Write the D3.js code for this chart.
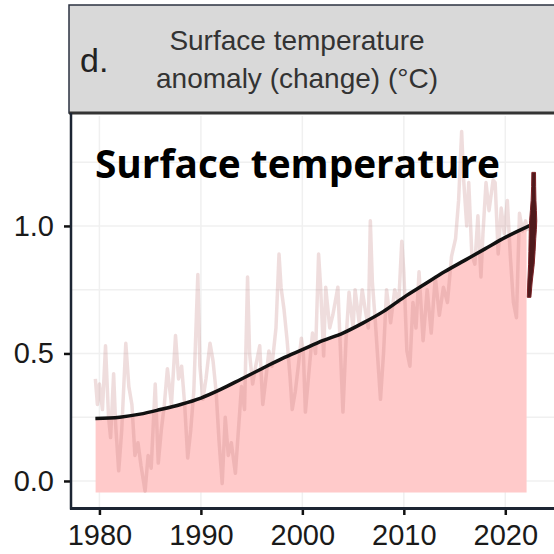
<!DOCTYPE html>
<html>
  <head>
    <meta charset="utf-8">
    <script src="https://d3js.org/d3.v7.min.js"></script>
    <style>
      body { margin: 0; background: #fff; }
      svg { display: block; }
    </style>
  </head>
  <body>
    <div id="chart"></div>
    <script>

      // tick labels
      let xTicks = [1980, 1990, 2000, 2010, 2020];
      let yTicks = [0.0, 0.5, 1.0];
      let yGrid = [0, 0.25, 0.5, 0.75, 1.0, 1.25];

      // monthly-ish anomaly (year, degC)
      let years = [1979.6, 1979.8, 1980.0, 1980.3, 1980.6, 1980.9, 1981.1, 1981.4, 1981.6, 1981.9,
        1982.2, 1982.6, 1982.9, 1983.2, 1983.5, 1983.8, 1984.1, 1984.5, 1984.8, 1985.1,
        1985.5, 1985.8, 1986.1, 1986.4, 1986.7, 1987.1, 1987.5, 1987.8, 1988.1, 1988.4,
        1988.7, 1989.0, 1989.3, 1989.7, 1989.9, 1990.2, 1990.5, 1990.9, 1991.2, 1991.5,
        1991.8, 1992.1, 1992.4, 1992.7, 1993.0, 1993.4, 1993.7, 1994.0, 1994.3, 1994.6,
        1994.8, 1995.1, 1995.4, 1995.8, 1996.1, 1996.4, 1996.7, 1997.0, 1997.4, 1997.7,
        1997.9, 1998.2, 1998.5, 1998.8, 1999.0, 1999.3, 1999.6, 1999.9, 2000.1, 2000.3,
        2000.7, 2001.0, 2001.3, 2001.6, 2001.8, 2002.1, 2002.3, 2002.7, 2003.0, 2003.5,
        2004.0, 2004.3, 2004.6, 2005.0, 2005.2, 2005.6, 2005.9, 2006.2, 2006.5, 2006.7,
        2006.9, 2007.2, 2007.7, 2008.0, 2008.3, 2008.7, 2009.1, 2009.5, 2009.8, 2010.0,
        2010.3, 2010.6, 2010.9, 2011.2, 2011.5, 2011.9, 2012.3, 2012.7, 2013.1, 2013.5,
        2013.9, 2014.3, 2014.7, 2015.1, 2015.4, 2015.7, 2015.9, 2016.2, 2016.4, 2016.7,
        2017.0, 2017.3, 2017.6, 2017.8, 2018.1, 2018.4, 2018.8, 2019.0, 2019.3, 2019.6,
        2019.9, 2020.2, 2020.5, 2020.8, 2021.1, 2021.4, 2021.7, 2022.0, 2022.2];
      let anomaly = [0.40, 0.30, 0.38, 0.28, 0.53, 0.25, 0.17, 0.42, 0.22, 0.04,
        0.20, 0.54, 0.37, 0.30, 0.10, 0.15, 0.06, -0.04, 0.10, 0.05,
        0.38, 0.07, 0.20, 0.30, 0.44, 0.30, 0.57, 0.40, 0.45, 0.30,
        0.09, 0.20, 0.35, 0.81, 0.45, 0.32, 0.40, 0.54, 0.47, 0.35,
        0.15, -0.01, 0.25, 0.10, 0.15, 0.03, 0.20, 0.37, 0.28, 0.80,
        0.50, 0.38, 0.45, 0.53, 0.30, 0.40, 0.51, 0.45, 0.60, 0.89,
        0.76, 0.67, 0.55, 0.40, 0.28, 0.35, 0.45, 0.56, 0.50, 0.27,
        0.45, 0.58, 0.50, 0.89, 0.76, 0.49, 0.76, 0.60, 0.65, 0.76,
        0.27, 0.55, 0.74, 0.60, 0.75, 0.62, 0.75, 0.67, 0.60, 1.02,
        0.78, 0.62, 0.32, 0.50, 0.75, 0.62, 0.75, 0.70, 0.94, 0.82,
        0.51, 0.45, 0.70, 0.60, 0.82, 0.55, 0.75, 0.58, 0.80, 0.65,
        0.76, 0.70, 0.88, 0.95, 1.10, 1.37, 1.18, 1.00, 1.17, 0.89,
        0.85, 1.04, 0.80, 0.97, 1.17, 1.06, 1.18, 1.17, 0.89, 1.07,
        0.97, 1.10, 0.88, 0.70, 0.64, 1.05, 0.98, 1.02, 0.98];

      // smoothed trend
      let trendYears = [1979.6, 1982, 1984, 1986, 1988, 1990, 1992, 1994, 1996, 1998, 2000,
        2002, 2004, 2006, 2008, 2010, 2012, 2014, 2016, 2018, 2020, 2022.9];
      let trend = [0.245, 0.25, 0.262, 0.28, 0.30, 0.325, 0.36, 0.40, 0.44, 0.48, 0.515,
        0.55, 0.58, 0.62, 0.665, 0.72, 0.77, 0.82, 0.865, 0.91, 0.955, 1.01];

      // uncertainty of the latest estimate (value, left year, right year)
      let uncValues = [1.21, 1.10, 1.02, 0.95, 0.85, 0.78, 0.72];
      let uncLeft = [2022.62, 2022.55, 2022.40, 2022.35, 2022.30, 2022.22, 2022.17];
      let uncRight = [2022.98, 2023.02, 2023.10, 2023.00, 2022.85, 2022.65, 2022.52];

      let fillStart = 1979.6, fillEnd = 2022.1, fillBase = -0.045;

      let width = 554, height = 554;
      let svg = d3.select('#chart').append('svg')
        .attr('width', width)
        .attr('height', height);

      let x = d3.scaleLinear().domain([1977.1, 2024.9]).range([70, 555]);
      let y = d3.scaleLinear().domain([-0.106, 1.435]).range([508, 115]);

      // header strip
      svg.append('rect')
        .attr('x', 69).attr('y', 5).attr('width', 500).attr('height', 108)
        .attr('fill', '#d9d9d9').attr('stroke', '#2b3240').attr('stroke-width', 1.5);
      svg.append('line')
        .attr('x1', 69).attr('x2', 554).attr('y1', 113).attr('y2', 113)
        .attr('stroke', '#333').attr('stroke-width', 3);

      svg.append('text').text('d.')
        .attr('x', 80).attr('y', 72)
        .attr('font-family', 'Liberation Sans, Arial, sans-serif')
        .attr('font-size', 34).attr('fill', '#222');
      svg.append('text').text('Surface temperature')
        .attr('x', 297).attr('y', 50).attr('text-anchor', 'middle')
        .attr('font-family', 'Liberation Sans, Arial, sans-serif')
        .attr('font-size', 28).attr('fill', '#333');
      svg.append('text').text('anomaly (change) (°C)')
        .attr('x', 297).attr('y', 88).attr('text-anchor', 'middle')
        .attr('font-family', 'Liberation Sans, Arial, sans-serif')
        .attr('font-size', 28).attr('fill', '#333');

      // grid
      svg.append('g').selectAll('line').data(yGrid).enter().append('line')
        .attr('x1', 72).attr('x2', 554)
        .attr('y1', d => y(d)).attr('y2', d => y(d))
        .attr('stroke', '#f0f0f0').attr('stroke-width', 1.5);
      svg.append('g').selectAll('line').data(xTicks).enter().append('line')
        .attr('x1', d => x(d)).attr('x2', d => x(d))
        .attr('y1', 116).attr('y2', 507)
        .attr('stroke', '#f0f0f0').attr('stroke-width', 1.5);

      // pink area under the trend
      svg.append('clipPath').attr('id', 'fillclip')
        .append('rect')
        .attr('x', x(fillStart)).attr('y', 0)
        .attr('width', x(fillEnd) - x(fillStart)).attr('height', height);

      let trendData = trendYears.map((t, i) => ({t: t, v: trend[i]}));
      let area = d3.area()
        .x(d => x(d.t))
        .y0(y(fillBase))
        .y1(d => y(d.v))
        .curve(d3.curveMonotoneX);
      svg.append('path')
        .datum(trendData)
        .attr('d', area)
        .attr('clip-path', 'url(#fillclip)')
        .attr('fill', '#ffcaca');

      // raw anomaly line
      let rawData = years.map((t, i) => ({t: t, v: anomaly[i]}));
      svg.append('path')
        .datum(rawData)
        .attr('d', d3.line().x(d => x(d.t)).y(d => y(d.v)))
        .attr('fill', 'none')
        .attr('stroke', 'rgb(190,120,120)')
        .attr('stroke-opacity', 0.25)
        .attr('stroke-width', 3.5)
        .attr('stroke-linejoin', 'round');

      // trend line
      svg.append('path')
        .datum(trendData)
        .attr('d', d3.line().x(d => x(d.t)).y(d => y(d.v)).curve(d3.curveMonotoneX))
        .attr('fill', 'none')
        .attr('stroke', '#111')
        .attr('stroke-width', 3.5);

      // uncertainty shape
      let uncData = uncValues.map((v, i) => ({v: v, l: uncLeft[i], r: uncRight[i]}));
      svg.append('path')
        .datum(uncData)
        .attr('d', d3.area()
          .y(d => y(d.v))
          .x0(d => x(d.l))
          .x1(d => x(d.r))
          .curve(d3.curveMonotoneY))
        .attr('fill', '#4f1a1c')
        .attr('stroke', '#7a2024')
        .attr('stroke-width', 1);

      // overlay label
      svg.append('text').text('Surface temperature')
        .attr('x', 95).attr('y', 178)
        .attr('font-family', 'Open Sans, sans-serif')
        .attr('font-weight', 700)
        .attr('font-size', 40)
        .attr('textLength', 405)
        .attr('lengthAdjust', 'spacingAndGlyphs')
        .attr('fill', '#000');

      // axes
      let xAxis = svg.append('g')
        .attr('transform', 'translate(0,508)')
        .call(d3.axisBottom(x).tickValues(xTicks).tickFormat(d3.format('d')).tickSize(7).tickPadding(9));
      let yAxis = svg.append('g')
        .attr('transform', 'translate(71,0)')
        .call(d3.axisLeft(y).tickValues(yTicks).tickFormat(d3.format('.1f')).tickSize(7).tickPadding(10));

      [xAxis, yAxis].forEach(g => {
        g.select('.domain').remove();
        g.selectAll('.tick text')
          .attr('font-family', 'Liberation Sans, Arial, sans-serif')
          .attr('font-size', 29)
          .attr('fill', '#1a1a1a');
        g.selectAll('.tick line').attr('stroke', '#111').attr('stroke-width', 2.5);
      });

      svg.append('line')
        .attr('x1', 71).attr('x2', 71).attr('y1', 113).attr('y2', 509.5)
        .attr('stroke', '#1c2533').attr('stroke-width', 2.5);
      svg.append('line')
        .attr('x1', 70).attr('x2', 554).attr('y1', 508.5).attr('y2', 508.5)
        .attr('stroke', '#1c2533').attr('stroke-width', 3);

    </script>
  </body>
</html>
